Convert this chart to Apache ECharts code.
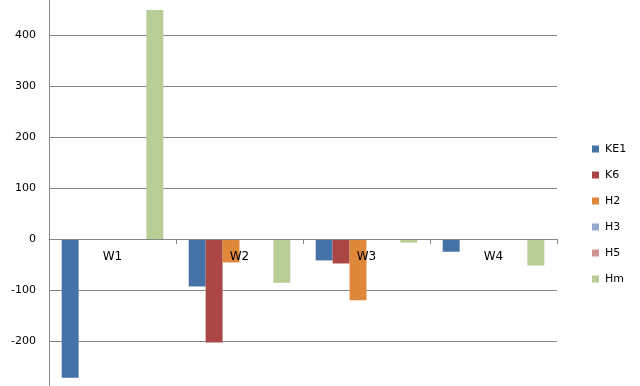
<!DOCTYPE html>
<html><head><meta charset="utf-8">
<script src="https://cdn.jsdelivr.net/npm/echarts@6/dist/echarts.min.js"></script>
<style>html,body{margin:0;padding:0;background:#fff}#c{width:640px;height:386px}</style>
</head><body><div id="c"></div>
<script>
var categories = ['W1', 'W2', 'W3', 'W4'];
var seriesNames = ['KE1', 'K6', 'H2', 'H3', 'H5', 'Hm'];
var KE1 = [-272, -93, -42, -25];
var K6 = [0, -203, -48, 0];
var H2 = [0, -46, -120, 0];
var H3 = [0, 0, 0, 0];
var H5 = [0, 0, 0, 0];
var Hm = [449, -86, -7, -52];
var colors = ['#4572A7', '#AA4643', '#E0883A', '#93A9CF', '#D19392', '#B9CD96'];
var values = [KE1, K6, H2, H3, H5, Hm];

var chart = echarts.init(document.getElementById('c'), null, {renderer: 'canvas'});
var font = 'DejaVu Sans';
chart.setOption({
  animation: false,
  color: colors,
  grid: {left: 49, right: 83, top: -16, bottom: -6, containLabel: false, outerBoundsMode: 'none'},
  legend: {
    orient: 'vertical', left: 587, top: 137,
    itemWidth: 7, itemHeight: 7, itemGap: 12,
    icon: 'rect',
    textStyle: {fontFamily: font, fontSize: 11, color: '#000', lineHeight: 14, padding: [0, 0, 0, 1]},
    data: seriesNames
  },
  xAxis: {
    type: 'category', data: categories,
    position: 'bottom', offset: -153, z: 10,
    axisLine: {onZero: false, lineStyle: {color: '#868686', width: 1}},
    axisTick: {show: true, length: 5, lineStyle: {color: '#868686'}},
    axisLabel: {fontFamily: font, fontSize: 12, color: '#000', margin: 12}
  },
  yAxis: {
    type: 'value', min: -300, max: 500, interval: 100,
    axisLine: {show: true, lineStyle: {color: '#868686', width: 1}},
    axisTick: {show: false},
    splitLine: {lineStyle: {color: '#868686', width: 1}},
    axisLabel: {fontFamily: font, fontSize: 11, color: '#000', margin: 13}
  },
  series: seriesNames.map(function (n, i) {
    return {name: n, type: 'bar', data: values[i], barGap: '0%', barCategoryGap: '20%',
      itemStyle: {color: colors[i]}};
  })
});
</script></body></html>
